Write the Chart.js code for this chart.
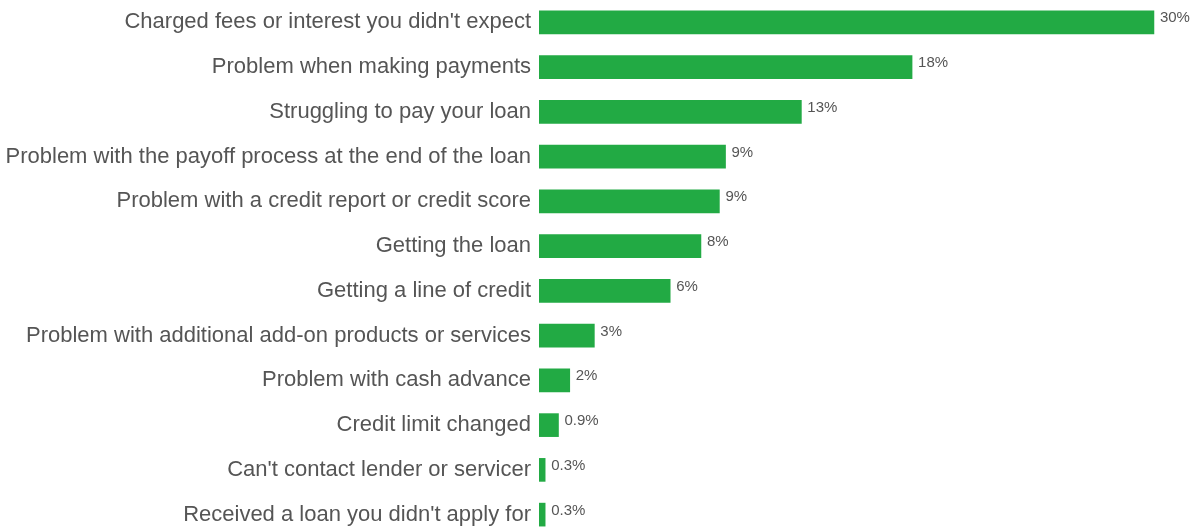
<!DOCTYPE html>
<html lang="en">

<head>
    <meta charset="UTF-8">
    <title>Complaint issues</title>
    <script src="https://cdn.jsdelivr.net/npm/chart.js"></script>
    <style>
        html, body { margin: 0; padding: 0; background: #fff; overflow: hidden; }
        .wrap { position: relative; width: 1198px; height: 537px; }
    </style>
</head>

<body>
    <div class="wrap">
        <canvas id="myChart"></canvas>
    </div>

    <script>
        const categories = [
            "Charged fees or interest you didn't expect",
            "Problem when making payments",
            "Struggling to pay your loan",
            "Problem with the payoff process at the end of the loan",
            "Problem with a credit report or credit score",
            "Getting the loan",
            "Getting a line of credit",
            "Problem with additional add-on products or services",
            "Problem with cash advance",
            "Credit limit changed",
            "Can't contact lender or servicer",
            "Received a loan you didn't apply for"
        ];
        const shares = [30, 18.2, 12.8, 9.1, 8.8, 7.9, 6.4, 2.7, 1.5, 0.95, 0.3, 0.3];
        const shareLabels = ["30%", "18%", "13%", "9%", "9%", "8%", "6%", "3%", "2%", "0.9%", "0.3%", "0.3%"];

        const FONT = 'Arial, "Liberation Sans", sans-serif';

        // value labels to the right of each bar
        const valueLabels = {
            id: 'valueLabels',
            afterDatasetsDraw(chart) {
                const c = chart.ctx;
                const meta = chart.getDatasetMeta(0);
                c.save();
                c.font = '15px ' + FONT;
                c.fillStyle = '#555';
                c.textAlign = 'left';
                c.textBaseline = 'alphabetic';
                meta.data.forEach((bar, i) => {
                    c.fillText(shareLabels[i], bar.x + 6, bar.y);
                });
                c.restore();
            }
        };

        const ctx = document.getElementById('myChart');

        new Chart(ctx, {
            type: 'bar',
            data: {
                labels: categories,
                datasets: [{
                    data: shares,
                    backgroundColor: '#22aa44',
                    borderWidth: 0,
                    barThickness: 23
                }]
            },
            options: {
                indexAxis: 'y',
                responsive: true,
                maintainAspectRatio: false,
                animation: false,
                layout: { padding: 0 },
                plugins: {
                    legend: { display: false },
                    tooltip: { enabled: false }
                },
                scales: {
                    x: {
                        display: false,
                        min: 0,
                        max: 32.15
                    },
                    y: {
                        afterFit: (scale) => {
                            scale.width = 539;
                            scale.paddingTop = 0;
                            scale.paddingBottom = 0;
                        },
                        grid: { display: false, drawTicks: false },
                        border: { display: false },
                        ticks: {
                            padding: 8,
                            color: '#555',
                            font: { family: FONT, size: 22 }
                        }
                    }
                }
            },
            plugins: [valueLabels]
        });
    </script>
</body>

</html>
